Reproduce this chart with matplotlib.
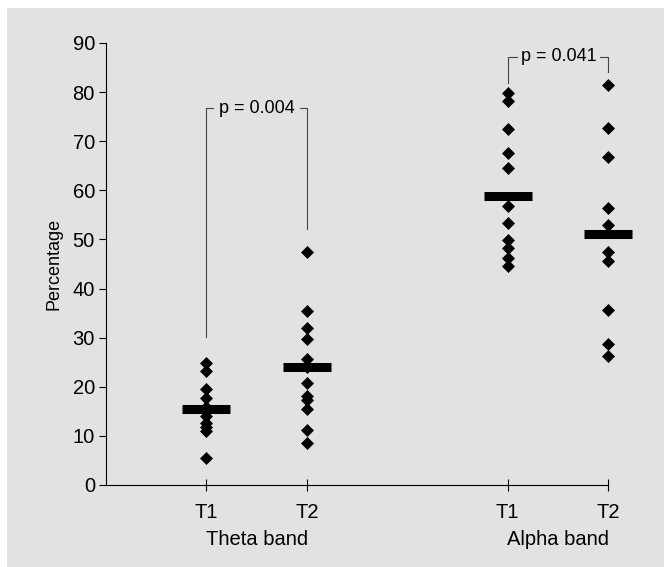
import numpy as np
import matplotlib
matplotlib.use("Agg")
import matplotlib.pyplot as plt
from matplotlib.patches import Rectangle

plt.rcParams['font.family'] = ['Liberation Sans', 'DejaVu Sans']

# values (percentage)
theta_t1 = [24.9, 23.3, 19.6, 17.8, 15.8, 15.0, 14.0, 12.6, 11.9, 11.0, 5.4]
theta_t2 = [47.5, 35.4, 31.9, 29.7, 25.6, 24.0, 20.8, 18.2, 17.4, 15.5, 11.1, 8.6]
alpha_t1 = [79.8, 78.1, 72.4, 67.7, 64.5, 56.8, 53.3, 49.9, 48.2, 46.2, 44.5]
alpha_t2 = [81.5, 72.6, 66.7, 56.4, 53.0, 47.5, 45.7, 35.6, 28.7, 26.3]
medians = [15.4, 24.0, 58.9, 51.1]

tick_labels = ['T1', 'T2', 'T1', 'T2']
band_labels = ['Theta band', 'Alpha band']
p_labels = ['p = 0.004', 'p = 0.041']

groups = [theta_t1, theta_t2, alpha_t1, alpha_t2]
xpos = [1, 2, 4, 5]
fs = 14.5

fig = plt.figure(figsize=(6.64, 5.67), dpi=100)
fig.patches.append(Rectangle((7 / 664, 0), 1, 1 - 8 / 567, transform=fig.transFigure,
                             facecolor='#e2e2e2', edgecolor='none', zorder=-10))
ax = fig.add_axes([106 / 664, 1 - 485 / 567, 502 / 664, 442 / 567])
ax.set_facecolor('none')

for x, vals in zip(xpos, groups):
    ax.plot([x] * len(vals), vals, linestyle='none', marker='D', ms=6,
            mfc='black', mec='black', mew=0.5, clip_on=False, zorder=3)

ax.hlines(medians, np.array(xpos) - 0.24, np.array(xpos) + 0.24,
          colors='black', linewidth=6.5, zorder=4, clip_on=False)

# significance brackets
br = '#444444'
ax.plot([1, 1, 1.07], [30.2, 76.7, 76.7], color=br, lw=0.8)
ax.plot([1.93, 2, 2], [76.7, 76.7, 52.1], color=br, lw=0.8)
ax.text(1.5, 76.7, p_labels[0], ha='center', va='center', fontsize=13)
ax.plot([4, 4, 4.09], [81.8, 87.2, 87.2], color=br, lw=0.8, clip_on=False)
ax.plot([4.92, 5, 5], [87.2, 87.2, 84.0], color=br, lw=0.8, clip_on=False)
ax.text(4.51, 87.2, p_labels[1], ha='center', va='center', fontsize=13)

ax.set_xlim(0, 5)
ax.set_ylim(0, 90)
ax.set_yticks(range(0, 91, 10))
ax.set_xticks(xpos)
ax.set_xticklabels(tick_labels)
ax.tick_params(axis='y', direction='out', length=5, width=0.8, pad=3, labelsize=fs)
ax.tick_params(axis='x', direction='inout', length=8, width=0.8, pad=9, labelsize=fs)

for s in ['top', 'right']:
    ax.spines[s].set_visible(False)
for s in ['left', 'bottom']:
    ax.spines[s].set_linewidth(0.8)

ax.set_ylabel('Percentage', fontsize=13)
ax.yaxis.set_label_coords(-0.087, 0.5)

for xc, lab in zip([1.5, 4.5], band_labels):
    ax.text(xc, -0.124, lab, ha='center', va='center', fontsize=fs,
            transform=ax.get_xaxis_transform())

fig.savefig('out.png', dpi=100)
